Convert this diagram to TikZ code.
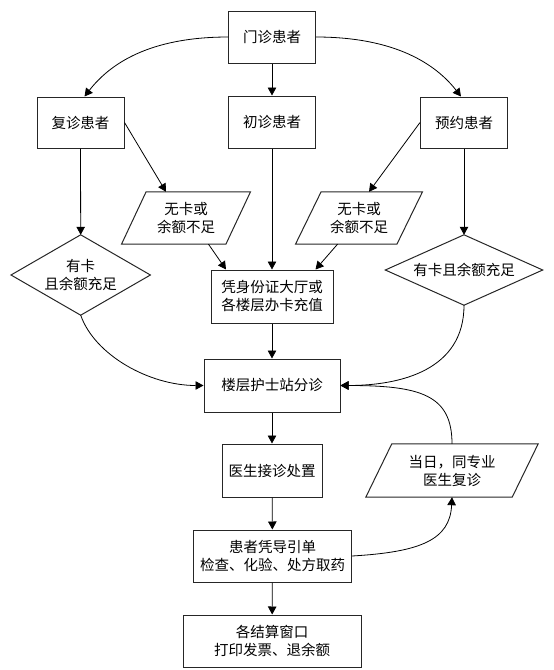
\documentclass[tikz,border=0pt]{standalone}
\usepackage{fontspec}
\newfontfamily\cjk{Noto Sans CJK SC}
\usetikzlibrary{arrows.meta,calc}
\begin{document}
\begin{tikzpicture}[x=1pt,y=-1pt,
  font=\cjk\fontsize{14.5}{18}\selectfont,
  box/.style={draw=black!85, line width=1pt, fill=white, align=center, inner sep=0pt},
  shp/.style={align=center, inner sep=0pt},
  outl/.style={draw=black!85, line width=1pt},
  arr/.style={-{Triangle[length=8pt,width=8.5pt]}, line width=0.8pt},
  con/.style={line width=0.8pt}]
\useasboundingbox (0,0) rectangle (554,670);
% nodes
\node[box, minimum width=86.5, minimum height=52] (mz) at (272,37) {门诊患者};
\node[box, minimum width=87, minimum height=51] (fz) at (80.5,122.5) {复诊患者};
\node[box, minimum width=86.5, minimum height=52] (cz) at (272,122) {初诊患者};
\node[box, minimum width=87, minimum height=51] (yy) at (464,122.5) {预约患者};
\node[shp, minimum width=104, minimum height=52] (p1) at (186,218) {无卡或\\余额不足};
\node[shp, minimum width=101, minimum height=52] (p2) at (359,218) {无卡或\\余额不足};
\node[shp, minimum width=139, minimum height=80] (d1) at (80.7,275) {有卡\\且余额充足};
\node[box, minimum width=122, minimum height=53] (pc) at (272,296.5) {凭身份证大厅或\\各楼层办卡充值};
\node[shp, minimum width=157, minimum height=70] (d2) at (464,270) {有卡且余额充足};
\node[box, minimum width=136, minimum height=53] (lc) at (272,385.5) {楼层护士站分诊};
\node[box, minimum width=100, minimum height=53] (ys) at (272,470.5) {医生接诊处置};
\node[shp, minimum width=146, minimum height=53] (p3) at (452,470.5) {当日，同专业\\医生复诊};
\node[box, minimum width=158, minimum height=52] (hz) at (272.5,556) {患者凭导引单\\检查、化验、处方取药};
\node[box, minimum width=178, minimum height=52] (js) at (272,641) {各结算窗口\\打印发票、退余额};
% outlines of parallelograms and diamonds
\foreach \n/\s in {p1/12.3, p2/12.8, p3/13}
  \draw[outl] ($(\n.south west)+(-\s,0)$) -- ($(\n.south east)+(-\s,0)$) -- ($(\n.north east)+(\s,0)$) -- ($(\n.north west)+(\s,0)$) -- cycle;
\foreach \n in {d1,d2}
  \draw[outl] (\n.west) -- (\n.north) -- (\n.east) -- (\n.south) -- cycle;
% connectors
\draw[arr] (mz.west) .. controls +(-80,0) and +(25,-32) .. ($(fz.north)+(4,0)$);
\draw[arr] (mz.east) .. controls +(80,0) and +(-25,-32) .. ($(yy.north)+(-3,0)$);
\draw[arr] (mz) -- (cz);
\draw[arr] (fz.south) -- (d1.north);
\draw[arr] (yy.south) -- (d2.north);
\draw[arr] (cz.south) -- (pc.north);
\draw[arr] (fz.east) -- ($(p1.north)+(-20,0)$);
\draw[arr] (yy.west) -- ($(p2.north)+(10,0)$);
\draw[arr] ($(p1.south)+(22.5,0)$) -- ($(pc.north)+(-46,0)$);
\draw[arr] ($(p2.south)+(-21.5,0)$) -- ($(pc.north)+(43.5,0)$);
\draw[arr] (pc) -- (lc);
\draw[arr] (d1.south) .. controls +(14,40) and +(-54,0) .. (lc.west);
\draw[arr] (d2.south) .. controls +(0,65) and +(60,0) .. (lc.east);
\draw[arr] (p3.north) .. controls +(0,-49) and +(80,0) .. (lc.east);
\draw[arr] (lc) -- (ys);
\draw[arr] (ys) -- (hz);
\draw[arr] (hz) -- (js);
\draw[arr] (hz.east) .. controls +(68,-4) and +(-2,43) .. (p3.south);
\end{tikzpicture}
\end{document}
